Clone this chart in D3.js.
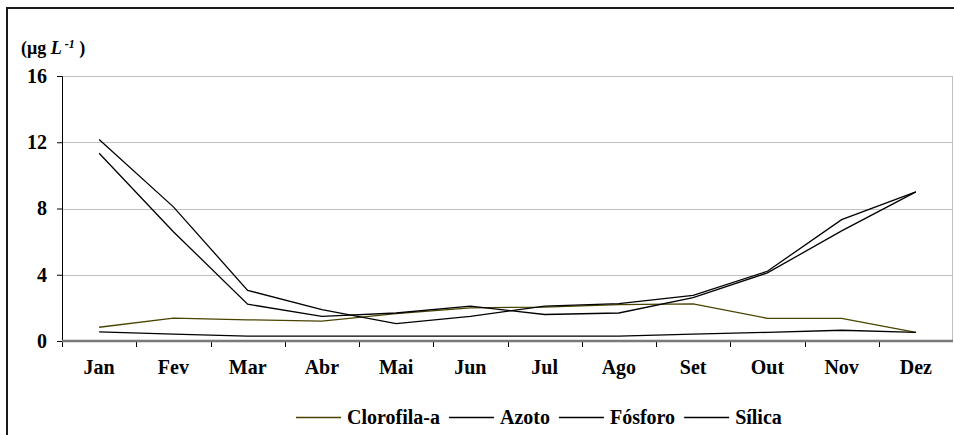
<!DOCTYPE html>
<meta charset="utf-8">
<style>
    body {
        margin: 0;
        background-color: #fff;
    }

    .grid line {
        stroke: #c0c0c0;
        stroke-width: 1px;
        shape-rendering: crispEdges;
    }

    .line {
        fill: none;
        stroke-width: 1.3px;
    }
</style>

<body>
    <svg width="954" height="435"></svg>
</body>
<script src="https://d3js.org/d3.v7.min.js"></script>
<script>
    // data
    var months = ["Jan", "Fev", "Mar", "Abr", "Mai", "Jun", "Jul", "Ago", "Set", "Out", "Nov", "Dez"];
    var seriesNames = ["Clorofila-a", "Azoto", "Fósforo", "Sílica"];
    var clorofila = [0.83, 1.38, 1.28, 1.2, 1.65, 2.0, 2.05, 2.2, 2.24, 1.37, 1.37, 0.52];
    var azoto = [12.17, 8.1, 3.06, 1.9, 1.05, 1.49, 2.1, 2.26, 2.76, 4.21, 7.33, 9.0];
    var fosforo = [0.55, 0.42, 0.3, 0.3, 0.3, 0.3, 0.3, 0.3, 0.42, 0.52, 0.65, 0.52];
    var silica = [11.34, 6.6, 2.22, 1.49, 1.69, 2.1, 1.6, 1.69, 2.62, 4.11, 6.65, 9.0];
    var yTicks = [0, 4, 8, 12, 16];
    var colors = ["#4a4300", "#000", "#000", "#000"];

    var serif = "'Liberation Serif'";

    var svg = d3.select("svg"),
        margin = {
            top: 76,
            right: 1,
            bottom: 94,
            left: 62
        },
        width = +svg.attr("width") - margin.left - margin.right,
        height = +svg.attr("height") - margin.top - margin.bottom;

    var allSeries = [clorofila, azoto, fosforo, silica];

    // outer frame (only left and top edges are in view)
    svg.append("path")
        .attr("d", "M7,435V8H954")
        .attr("fill", "none")
        .attr("stroke", "#1a1a1a")
        .attr("stroke-width", 2);

    var x = d3.scaleBand().domain(months).range([0, width]);
    var y = d3.scaleLinear().domain([0, 16]).range([height, 0]);

    var g = svg.append("g")
        .attr("transform", "translate(" + margin.left + "," + margin.top + ")");

    // gridlines
    g.append("g")
        .attr("class", "grid")
        .selectAll("line")
        .data(yTicks.slice(1))
        .enter().append("line")
        .attr("x1", 0)
        .attr("x2", width)
        .attr("y1", function(d) { return Math.round(y(d)) + 0.5; })
        .attr("y2", function(d) { return Math.round(y(d)) + 0.5; });

    // right edge of plot area
    g.append("line")
        .attr("x1", width - 0.5)
        .attr("x2", width - 0.5)
        .attr("y1", y(16))
        .attr("y2", y(0))
        .attr("stroke", "#c0c0c0");

    // y axis
    var yAxis = g.append("g")
        .attr("class", "axis axis--y")
        .call(d3.axisLeft(y).tickValues(yTicks).tickSize(5).tickPadding(10));
    yAxis.attr("font-family", null);
    yAxis.select(".domain").attr("stroke", "#000");
    yAxis.selectAll(".tick line").attr("stroke", "#000");
    yAxis.selectAll("text")
        .style("font-family", serif)
        .style("font-weight", "bold")
        .style("font-size", "20px")
        .attr("fill", "#000");

    // x axis: ticks between categories
    var xAxis = g.append("g")
        .attr("class", "axis axis--x")
        .attr("transform", "translate(0," + height + ")")
        .call(d3.axisBottom(x).tickSize(0).tickPadding(19));
    xAxis.attr("font-family", null);
    xAxis.select(".domain").remove();
    xAxis.selectAll("text")
        .style("font-family", serif)
        .style("font-weight", "bold")
        .style("font-size", "20px")
        .attr("fill", "#000");

    xAxis.selectAll(".sep")
        .data(months)
        .enter().append("line")
        .attr("x1", function(d) { return Math.round(x(d)) + 0.5; })
        .attr("x2", function(d) { return Math.round(x(d)) + 0.5; })
        .attr("y1", 0)
        .attr("y2", 6)
        .attr("stroke", "#000");

    xAxis.append("line")
        .attr("x1", 0)
        .attr("x2", width)
        .attr("y1", 0)
        .attr("y2", 0)
        .attr("stroke", "#7a7a7a")
        .attr("stroke-width", 2.5);

    // series lines
    var line = d3.line()
        .x(function(d, i) { return x(months[i]) + x.bandwidth() / 2; })
        .y(function(d) { return y(d); });

    g.selectAll(".line")
        .data(allSeries)
        .enter().append("path")
        .attr("class", "line")
        .attr("stroke", function(d, i) { return colors[i]; })
        .attr("d", line);

    // unit label
    var unit = svg.append("text")
        .attr("x", 21)
        .attr("y", 54)
        .style("font-family", serif)
        .style("font-weight", "bold")
        .style("font-size", "18px");
    unit.append("tspan").text("(μg ");
    unit.append("tspan").style("font-style", "italic").text("L");
    unit.append("tspan").attr("dy", -6).style("font-size", "12px").style("font-style", "italic").text(" -1");
    unit.append("tspan").attr("dy", 6).text(" )");

    // legend
    var legend = svg.append("g").attr("class", "legend");
    var lx = 296;
    seriesNames.forEach(function(name, i) {
        legend.append("line")
            .attr("x1", lx)
            .attr("x2", lx + 45)
            .attr("y1", 417.5)
            .attr("y2", 417.5)
            .attr("stroke", colors[i])
            .attr("stroke-width", 1.3);
        var t = legend.append("text")
            .attr("x", lx + 51)
            .attr("y", 424)
            .style("font-family", serif)
            .style("font-weight", "bold")
            .style("font-size", "20px")
            .text(name);
        lx = lx + 51 + t.node().getComputedTextLength() + 9;
    });
</script>
